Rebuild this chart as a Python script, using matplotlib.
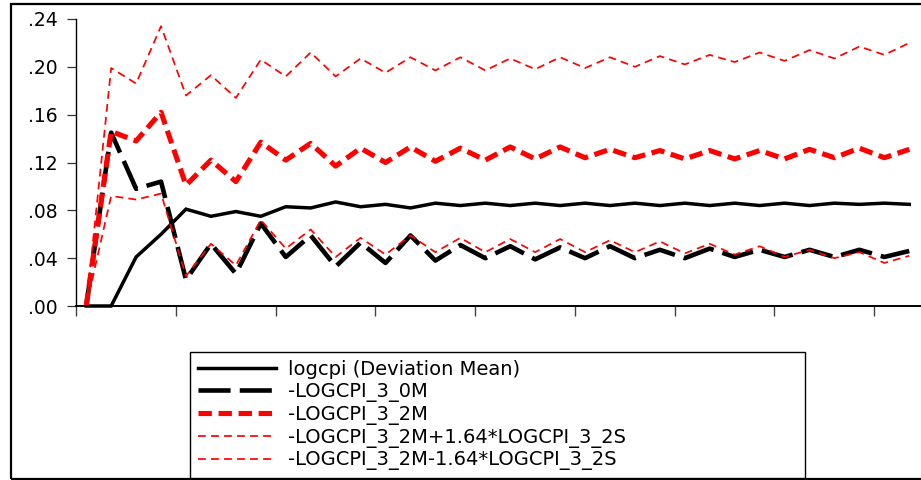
import numpy as np
import matplotlib
matplotlib.use('Agg')
import matplotlib.pyplot as plt
from matplotlib.patches import Rectangle

# Impulse response values (periods 1..34)
periods = np.arange(1, 35)

logcpi_dev = [0.000, 0.000, 0.041, 0.060, 0.081, 0.075, 0.079, 0.075, 0.083, 0.082,
              0.087, 0.083, 0.085, 0.082, 0.086, 0.084, 0.086, 0.084, 0.086, 0.084,
              0.086, 0.084, 0.086, 0.084, 0.086, 0.084, 0.086, 0.084, 0.086, 0.084,
              0.086, 0.085, 0.086, 0.085]

logcpi_3_0m = [0.000, 0.145, 0.098, 0.104, 0.022, 0.052, 0.027, 0.069, 0.041, 0.059,
               0.033, 0.053, 0.036, 0.059, 0.038, 0.051, 0.040, 0.050, 0.039, 0.049,
               0.040, 0.050, 0.040, 0.047, 0.040, 0.048, 0.041, 0.047, 0.041, 0.047,
               0.041, 0.047, 0.041, 0.046]

logcpi_3_2m = [0.000, 0.146, 0.138, 0.162, 0.101, 0.122, 0.104, 0.137, 0.122, 0.136,
               0.117, 0.132, 0.120, 0.133, 0.121, 0.132, 0.122, 0.133, 0.123, 0.133,
               0.124, 0.131, 0.124, 0.130, 0.123, 0.130, 0.123, 0.130, 0.123, 0.131,
               0.124, 0.132, 0.124, 0.131]

upper_band = [0.000, 0.199, 0.186, 0.234, 0.176, 0.193, 0.174, 0.206, 0.192, 0.212,
              0.192, 0.207, 0.195, 0.208, 0.197, 0.208, 0.197, 0.207, 0.198, 0.208,
              0.199, 0.208, 0.200, 0.209, 0.202, 0.210, 0.204, 0.212, 0.205, 0.214,
              0.207, 0.217, 0.210, 0.220]

lower_band = [0.000, 0.092, 0.089, 0.094, 0.025, 0.052, 0.034, 0.072, 0.048, 0.064,
              0.041, 0.057, 0.043, 0.059, 0.045, 0.057, 0.045, 0.056, 0.045, 0.056,
              0.045, 0.055, 0.045, 0.054, 0.044, 0.052, 0.043, 0.050, 0.041, 0.047,
              0.040, 0.045, 0.036, 0.042]

labels = ['logcpi (Deviation Mean)',
          '-LOGCPI_3_0M',
          '-LOGCPI_3_2M',
          '-LOGCPI_3_2M+1.64*LOGCPI_3_2S',
          '-LOGCPI_3_2M-1.64*LOGCPI_3_2S']

y_ticks = [0.00, 0.04, 0.08, 0.12, 0.16, 0.20, 0.24]
y_ticklabels = ['.00', '.04', '.08', '.12', '.16', '.20', '.24']

plt.rcParams['font.family'] = ['DejaVu Sans']

fig = plt.figure(figsize=(9.21, 4.80), dpi=100)
ax = fig.add_axes([76 / 921, 174 / 480, 845 / 921, 287 / 480])

ax.plot(periods, logcpi_dev, color='black', lw=2.5, solid_joinstyle='miter',
        clip_on=False, label=labels[0])
ax.plot(periods, logcpi_3_0m, color='black', lw=3.3, dashes=(7.0, 2.0),
        clip_on=False, label=labels[1])
ax.plot(periods, logcpi_3_2m, color='#ff0000', lw=3.7, dashes=(2.6, 1.3),
        clip_on=False, label=labels[2])
ax.plot(periods, upper_band, color='#ff0000', lw=1.25, dashes=(4.5, 3.0),
        clip_on=False, label=labels[3])
ax.plot(periods, lower_band, color='#ff0000', lw=1.25, dashes=(4.5, 3.0),
        clip_on=False, label=labels[4])

# axis styling (EViews look)
ax.set_ylim(0, 0.24)
ax.set_xlim(0.59, 34.47)
ax.set_yticks(y_ticks)
ax.set_yticklabels(y_ticklabels, fontsize=13.5)
ax.set_xticks(np.arange(0.59, 34.0, 4))
ax.set_xticklabels([])
ax.spines['top'].set_visible(False)
ax.spines['right'].set_visible(False)
ax.spines['left'].set_linewidth(1.0)
ax.spines['bottom'].set_linewidth(1.4)
ax.tick_params(axis='y', direction='out', length=6.5, width=0.9, color='#333333', pad=7)
ax.tick_params(axis='x', direction='out', length=7, width=1.0, color='#444444')

# outer frame around the whole graphic
frame = Rectangle((11 / 921, 1.5 / 480), 1.0, 474.5 / 480, transform=fig.transFigure,
                  fill=False, edgecolor='black', linewidth=1.6, clip_on=False)
fig.patches.append(frame)

leg = fig.legend(loc='upper left', bbox_to_anchor=(190 / 921, 128 / 480, 615 / 921, 0),
                 mode='expand', fontsize=14, handlelength=4.0, handletextpad=0.65,
                 labelspacing=0.15, borderpad=0.4, fancybox=False, framealpha=1,
                 edgecolor='black', borderaxespad=0.0)
leg.get_frame().set_linewidth(1.0)

plt.savefig('out.png', dpi=100)
